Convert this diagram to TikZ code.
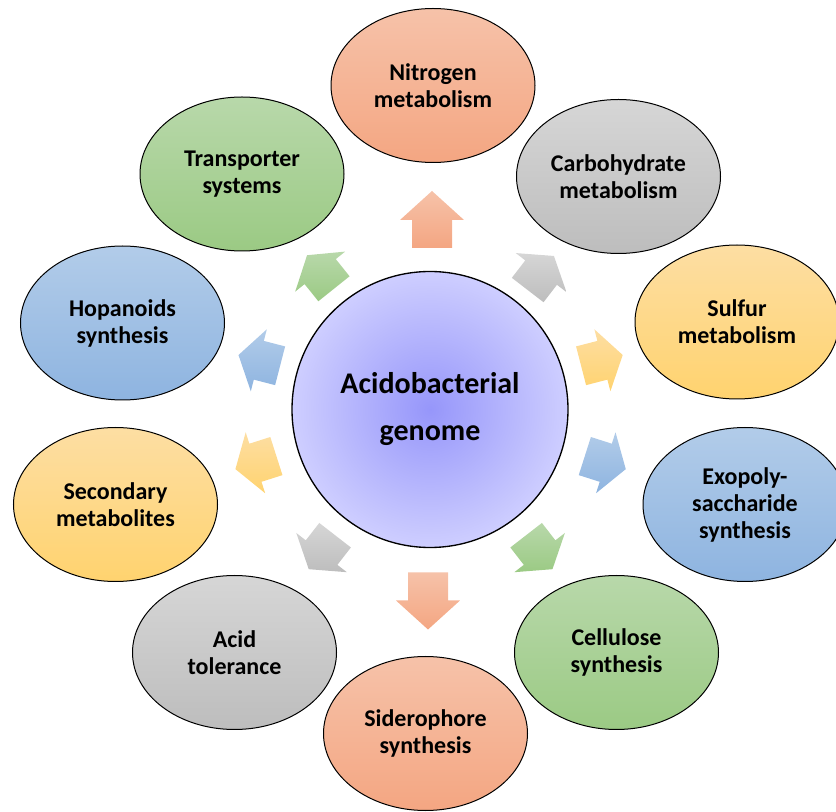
\documentclass[tikz,border=0pt]{standalone}
\usepackage{fontspec}
\setmainfont{Carlito}
\usetikzlibrary{calc,shapes.geometric}
\definecolor{orT}{HTML}{F6C2A9}
\definecolor{orB}{HTML}{F4A682}
\definecolor{grT}{HTML}{D6D6D6}
\definecolor{grB}{HTML}{BDBDBD}
\definecolor{yeT}{HTML}{FDDEA3}
\definecolor{yeB}{HTML}{FFD36F}
\definecolor{blT}{HTML}{B2CCE9}
\definecolor{blB}{HTML}{8EB4E0}
\definecolor{gnT}{HTML}{B8D8AA}
\definecolor{gnB}{HTML}{9BCA84}
\definecolor{cIn}{RGB}{150,150,250}
\definecolor{cOut}{RGB}{206,206,255}
% #1 centre coordinate, #2 direction, #3 total length, #4 head length, #5 top colour, #6 bottom colour
\newcommand\blockarrow[6]{%
  \path[top color=#5, bottom color=#6]
    ($(#1)+(#2:{#3/2})$)
    -- ($(#1)+(#2:{#3/2-#4})+(#2+90:32)$)
    -- ($(#1)+(#2:{#3/2-#4})+(#2+90:20)$)
    -- ($(#1)+(#2:{-#3/2})+(#2+90:20)$)
    -- ($(#1)+(#2:{-#3/2})+(#2-90:20)$)
    -- ($(#1)+(#2:{#3/2-#4})+(#2-90:20)$)
    -- ($(#1)+(#2:{#3/2-#4})+(#2-90:32)$)
    -- cycle;}
\begin{document}
\begin{tikzpicture}[x=0.75pt,y=-0.75pt,
  ell/.style={ellipse, draw=black, line width=0.75pt, minimum width=153pt,
    minimum height=115.5pt, inner sep=0pt, align=center,
    font=\fontsize{18}{20.25}\selectfont\bfseries},
  hub/.style={circle, draw=black, line width=1pt, minimum size=207pt,
    inner sep=0pt, align=center, inner color=cIn, outer color=cOut,
    font=\fontsize{22.5}{35.25}\selectfont\bfseries}]
\useasboundingbox (0,0) rectangle (836,812);

\node[hub] (hub) at (430,409.5) {Acidobacterial\\genome};

\node[ell, top color=orT, bottom color=orB] (nitro) at (433,85.5) {Nitrogen\\metabolism};
\node[ell, top color=grT, bottom color=grB] (carb) at (618.5,176.5) {Carbohydrate\\metabolism};
\node[ell, top color=yeT, bottom color=yeB] (sulf) at (737,322) {Sulfur\\metabolism};
\node[ell, top color=blT, bottom color=blB] (exo) at (745,504.5) {Exopoly-\\saccharide\\synthesis};
\node[ell, top color=gnT, bottom color=gnB] (cell) at (616.5,652.5) {Cellulose\\synthesis};
\node[ell, top color=orT, bottom color=orB] (sid) at (425.5,733.5) {Siderophore\\synthesis};
\node[ell, top color=grT, bottom color=grB] (acid) at (234.5,652.5) {Acid\\tolerance};
\node[ell, top color=yeT, bottom color=yeB] (sec) at (115.5,504.5) {Secondary\\metabolites};
\node[ell, top color=blT, bottom color=blB] (hop) at (122.5,323) {Hopanoids\\synthesis};
\node[ell, top color=gnT, bottom color=gnB] (trans) at (242,174) {Transporter\\systems};

\coordinate (aN) at (432,219.5);
\coordinate (aC) at (540.8,273);
\coordinate (aS) at (601.9,360.4);
\coordinate (aE) at (605.3,462.6);
\coordinate (aL) at (539.3,552.2);
\coordinate (aD) at (428,601);
\coordinate (aA) at (321.9,552.2);
\coordinate (aM) at (255.9,462.6);
\coordinate (aH) at (259.3,360.4);
\coordinate (aT) at (320.5,272);

\blockarrow{aN}{-90}{57}{29}{orT}{orB}
\blockarrow{aC}{-52.4}{43}{21}{grT}{grB}
\blockarrow{aS}{-14.5}{43}{21}{yeT}{yeB}
\blockarrow{aE}{17.7}{43}{21}{blT}{blB}
\blockarrow{aL}{52.2}{43}{21}{gnT}{gnB}
\blockarrow{aD}{90}{57}{29}{orT}{orB}
\blockarrow{aA}{127.8}{43}{21}{grT}{grB}
\blockarrow{aM}{162.3}{43}{21}{yeT}{yeB}
\blockarrow{aH}{194.5}{43}{21}{blT}{blB}
\blockarrow{aT}{231.3}{43}{21}{gnT}{gnB}
\end{tikzpicture}
\end{document}
